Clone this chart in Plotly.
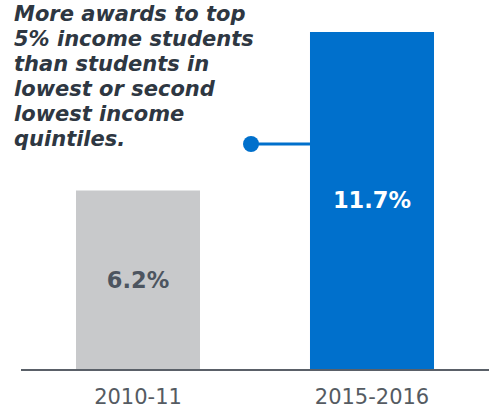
import plotly.graph_objects as go

categories = ["2010-11", "2015-2016"]
values = [6.2, 11.7]
value_labels = ["6.2%", "11.7%"]
bar_colors = ["#c8c9cb", "#0070cc"]
label_colors = ["#4d5560", "#ffffff"]
note_lines = ["More awards to top", "5% income students", "than students in",
              "lowest or second", "lowest income", "quintiles."]

FONT = "DejaVu Sans"
positions = list(range(len(categories)))

fig = go.Figure()
fig.add_trace(go.Bar(
    x=positions, y=values,
    marker=dict(color=bar_colors, line=dict(width=0)),
    width=0.53,
    text=value_labels,
    textposition="inside",
    insidetextanchor="middle",
    textangle=0,
    textfont=dict(family=FONT, size=22.5, color=label_colors, weight="bold"),
    hoverinfo="skip",
))

# connector from the note to the 2015-2016 bar
fig.add_trace(go.Scatter(
    x=[0.483, 0.735], y=[7.81, 7.81],
    mode="lines",
    line=dict(color="#0070cc", width=3),
    hoverinfo="skip", showlegend=False, cliponaxis=False,
))
fig.add_trace(go.Scatter(
    x=[0.483], y=[7.81],
    mode="markers",
    marker=dict(size=16, color="#0070cc", opacity=1, line=dict(width=0)),
    hoverinfo="skip", showlegend=False, cliponaxis=False,
))

for i, line in enumerate(note_lines):
    fig.add_annotation(
        xref="paper", yref="paper", x=-0.02, y=1.0, xanchor="left", yanchor="top",
        yshift=-25 * i, text=line, align="left", showarrow=False,
        font=dict(family=FONT, size=21, color="#2e3742", weight="bold", style="italic"),
    )

fig.update_layout(
    width=489, height=408,
    margin=dict(l=21, r=0, t=0, b=39),
    paper_bgcolor="white", plot_bgcolor="white",
    showlegend=False,
    xaxis=dict(range=[-0.5, 1.5], showgrid=False, zeroline=False,
               tickvals=positions, ticktext=categories,
               showline=True, linecolor="#5a6068", linewidth=2,
               ticks="", ticklabelstandoff=8,
               tickfont=dict(family=FONT, size=21, color="#555b62")),
    yaxis=dict(range=[0, 12.81], visible=False, showgrid=False, zeroline=False),
)

fig.write_html("out.html")
